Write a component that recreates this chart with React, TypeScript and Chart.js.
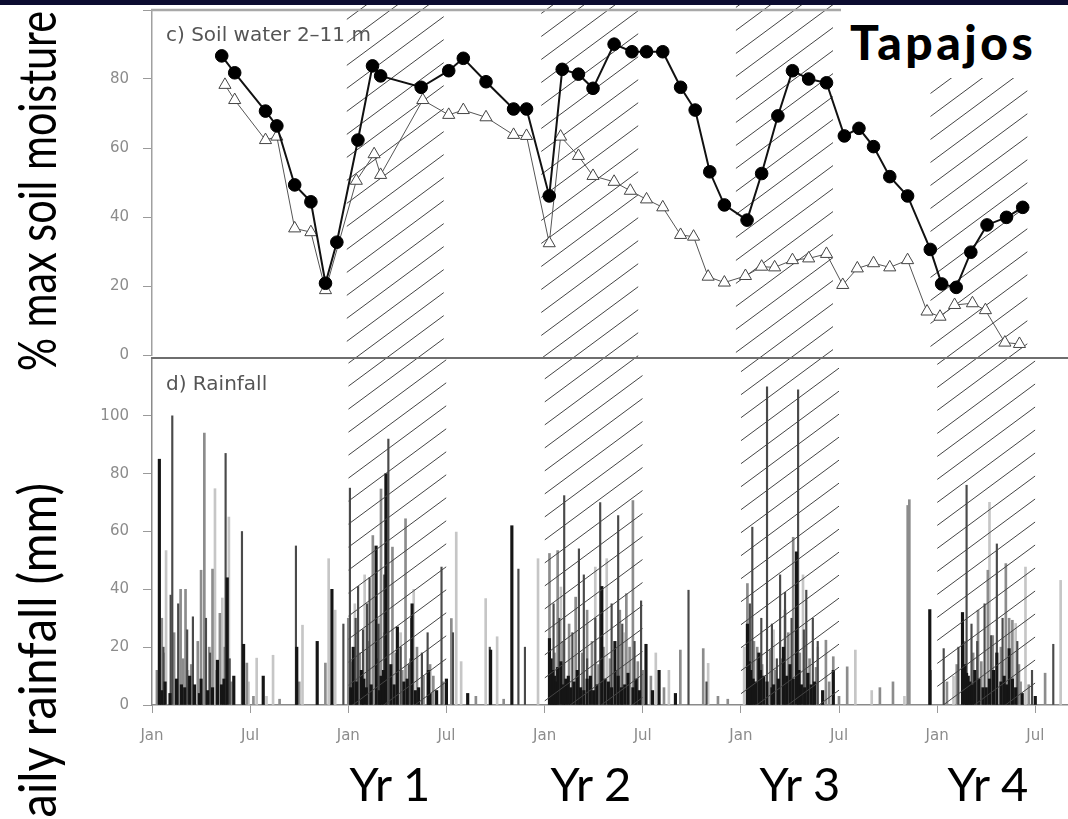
import React, { useEffect, useRef } from 'react';
import { Chart, registerables } from 'chart.js';

Chart.register(...registerables);

// ---------------- data ----------------
const monthTickValues = [0, 6, 12, 18, 24, 30, 36, 42, 48, 54];
const monthTickLabels = ['Jan', 'Jul', 'Jan', 'Jul', 'Jan', 'Jul', 'Jan', 'Jul', 'Jan', 'Jul'];
const soilTickValues = [0, 20, 40, 60, 80, 100];
const rainTickValues = [0, 20, 40, 60, 80, 100];
const wetSeasonBands: [number, number][] = [[12, 18], [24, 30], [36, 42], [48, 54]];
const yearLabels = ['Yr 1', 'Yr 2', 'Yr 3', 'Yr 4'];

// soil water 2-11 m, filled circles (months since first Jan, % of max)
const soilFilledMonths = [4.3, 5.1, 7.0, 7.7, 8.8, 9.8, 10.7, 11.4, 12.7, 13.6, 14.1, 16.6, 18.3, 19.2, 20.6, 22.3, 23.1, 24.5, 25.3, 26.3, 27.2, 28.5, 29.6, 30.5, 31.5, 32.6, 33.5, 34.4, 35.3, 36.7, 37.6, 38.6, 39.5, 40.5, 41.6, 42.7, 43.6, 44.5, 45.5, 46.6, 48.0, 48.7, 49.6, 50.5, 51.5, 52.7, 53.7];
const soilFilledValues = [86.7, 81.8, 70.7, 66.4, 49.3, 44.4, 20.8, 32.7, 62.3, 83.8, 80.9, 77.6, 82.4, 86.0, 79.2, 71.3, 71.3, 46.1, 82.8, 81.4, 77.3, 90.1, 87.9, 87.9, 87.9, 77.6, 71.0, 53.1, 43.5, 39.1, 52.6, 69.3, 82.4, 80.0, 78.9, 63.5, 65.7, 60.4, 51.7, 46.1, 30.6, 20.6, 19.6, 29.8, 37.7, 39.9, 42.8];

// open triangles
const soilOpenMonths = [4.5, 5.1, 7.0, 7.7, 8.8, 9.8, 10.7, 12.6, 13.7, 14.1, 16.7, 18.3, 19.2, 20.6, 22.3, 23.1, 24.5, 25.2, 26.3, 27.2, 28.5, 29.5, 30.5, 31.5, 32.6, 33.4, 34.3, 35.3, 36.6, 37.6, 38.4, 39.5, 40.5, 41.6, 42.6, 43.5, 44.5, 45.5, 46.6, 47.8, 48.6, 49.5, 50.6, 51.4, 52.6, 53.5];
const soilOpenValues = [78.3, 73.9, 62.3, 63.3, 36.7, 35.6, 18.8, 50.5, 58.2, 52.2, 73.9, 69.6, 71.0, 68.9, 63.8, 63.5, 32.4, 63.3, 57.7, 51.9, 50.2, 47.6, 45.1, 42.8, 34.8, 34.3, 22.7, 21.0, 22.9, 25.6, 25.4, 27.5, 28.0, 29.3, 20.3, 25.1, 26.6, 25.4, 27.5, 12.6, 11.1, 14.5, 15.0, 13.0, 3.6, 3.2];

// daily rainfall (month position, mm), grouped by bar shade
const rainBlack: [number, number][] = [
  [0.45, 85], [0.6, 5], [0.8, 8], [1.1, 4], [1.5, 9], [1.8, 7], [2.0, 6], [2.3, 10], [2.6, 7], [2.9, 4], [3.0, 9], [3.4, 5], [3.7, 6], [4.0, 15.5],
  [4.25, 7], [4.4, 9], [4.6, 44], [5.0, 10], [5.6, 21], [6.8, 10],
  [8.85, 20], [10.1, 22], [11.0, 40], [12.15, 6], [12.3, 20], [12.5, 8], [12.8, 12], [12.95, 9], [13.1, 6], [13.4, 7], [13.7, 55], [13.9, 5], [14.0, 10],
  [14.15, 12], [14.3, 80], [14.6, 14], [14.8, 7], [15.0, 27], [15.4, 8], [15.6, 9], [15.9, 35], [16.1, 5], [16.3, 6], [16.9, 12], [17.0, 4], [17.4, 5],
  [18.0, 9], [19.3, 4], [20.7, 19], [22.0, 62], [24.3, 23], [24.4, 16], [24.5, 12], [24.6, 10], [24.7, 8], [24.8, 13], [25.0, 15], [25.15, 7], [25.3, 9],
  [25.45, 10], [25.6, 6], [25.8, 8], [26.0, 12], [26.2, 6], [26.4, 5], [26.6, 9], [26.8, 10], [27.0, 5], [27.2, 7], [27.5, 41], [27.7, 9], [27.9, 8],
  [28.1, 6], [28.3, 22], [28.5, 10], [28.7, 6], [28.9, 7], [29.1, 11], [29.4, 6], [29.6, 9], [29.8, 5], [30.2, 21], [30.6, 5], [31.0, 12], [32.0, 4],
  [36.4, 28], [36.5, 15], [36.6, 12], [36.75, 9], [36.9, 8], [37.1, 18], [37.2, 12], [37.4, 10], [37.6, 8], [37.9, 6], [38.0, 7], [38.3, 9], [38.6, 20],
  [38.8, 10], [39.0, 14], [39.2, 9], [39.4, 53], [39.55, 12], [39.7, 7], [39.9, 6], [40.1, 11], [40.3, 7], [40.5, 8], [41.0, 5], [41.65, 12],
  [47.55, 33], [49.55, 32], [49.7, 14], [49.8, 11], [49.9, 10], [50.0, 8], [50.15, 7], [50.3, 12], [50.55, 9], [50.8, 6], [51.0, 6], [51.2, 9],
  [51.45, 12], [51.65, 18], [51.9, 8], [52.1, 10], [52.25, 7], [52.4, 19.5], [52.6, 9], [52.8, 6], [53.2, 4], [54.0, 3],
];
const rainDark: [number, number][] = [
  [0.7, 20], [1.24, 100], [1.14, 38], [1.6, 35], [2.15, 26], [2.5, 30.5], [3.3, 30], [3.55, 18], [4.5, 87], [4.75, 16], [5.5, 60], [8.8, 55],
  [11.7, 28], [12.1, 75], [12.45, 30], [12.6, 41], [12.9, 26], [13.15, 35], [13.3, 44], [13.85, 28], [14.2, 45], [14.45, 92], [15.2, 20], [15.7, 14],
  [15.85, 30], [16.5, 18], [16.85, 25], [17.7, 47.7], [18.4, 25], [20.65, 20], [22.4, 47], [22.8, 20], [24.55, 35], [24.9, 30], [25.2, 72.4],
  [25.7, 25], [26.1, 54], [26.4, 45], [26.6, 16], [27.1, 30], [27.4, 70], [28.1, 35], [28.5, 65.5], [28.75, 28], [29.5, 22], [29.9, 36], [32.8, 39.7],
  [33.9, 8], [36.55, 35], [36.7, 61.5], [37.25, 30], [37.6, 110], [37.9, 28], [38.2, 16], [38.4, 45], [38.7, 39], [39.1, 30], [39.5, 109],
  [39.85, 26], [40.0, 39.7], [40.4, 30], [40.7, 22], [47.6, 12], [48.4, 19.5], [49.3, 20], [49.8, 76], [50.1, 28], [50.45, 22], [50.9, 35],
  [51.3, 24], [51.65, 55.7], [52.0, 30], [52.9, 22], [53.8, 12], [55.1, 21],
];
const rainGrey: [number, number][] = [
  [0.3, 12], [0.6, 30], [0.7, 18], [1.35, 25], [1.75, 40], [1.9, 16], [2.05, 40], [2.4, 14], [2.8, 22], [3.0, 46.6], [3.2, 94], [3.5, 20], [3.7, 47],
  [3.95, 12], [4.15, 31.7], [4.45, 20], [4.85, 8], [5.8, 14.5], [6.2, 3], [7.8, 2], [9.0, 8],
  [10.6, 14.5], [12.0, 30], [12.2, 15], [12.7, 18], [13.2, 22], [13.5, 58.6], [13.8, 16], [14.0, 74.7], [14.2, 25], [14.7, 54.6], [14.9, 18],
  [15.3, 12], [15.5, 64.4], [15.8, 16], [16.2, 20], [16.6, 10], [17.0, 14], [17.2, 10], [17.8, 8], [18.3, 29.9], [19.8, 3], [21.5, 2],
  [24.3, 52.4], [24.6, 18], [24.8, 53.4], [25.1, 22], [25.5, 28], [25.9, 37.3], [26.3, 18], [26.6, 32.8], [26.9, 22], [27.3, 14], [27.6, 20],
  [28.0, 16], [28.4, 12], [28.6, 32.8], [29.0, 38.5], [29.2, 20], [29.4, 70.7], [29.7, 15], [30.0, 12], [30.5, 10], [31.3, 6], [32.3, 19],
  [33.7, 19.5], [34.6, 3], [35.2, 2], [36.4, 42], [36.5, 16], [36.8, 22], [37.0, 20], [37.3, 14], [37.8, 19], [38.1, 12], [38.5, 16], [38.7, 32.8],
  [38.9, 25], [39.2, 58], [39.6, 18], [40.2, 16], [40.6, 13], [41.2, 22.4], [41.4, 8], [41.65, 16.7], [42.0, 3], [42.5, 13.2],
  [44.5, 6], [45.3, 8], [46.2, 69], [46.3, 71], [48.6, 8], [49.2, 14], [49.7, 22], [50.2, 18], [50.5, 32.8], [50.7, 15], [51.1, 46.6], [51.4, 24],
  [51.9, 20], [52.2, 48.9], [52.4, 30], [52.6, 29.3], [53.0, 14], [53.1, 8], [53.6, 7], [54.6, 11],
];
const rainLight: [number, number][] = [
  [0.86, 53.4], [2.2, 12], [3.85, 74.8], [4.3, 37], [4.7, 65], [5.9, 8], [6.4, 16.2], [7.0, 3], [7.4, 17.2], [9.2, 27.6], [10.8, 50.6], [11.2, 32.8],
  [12.4, 35], [13.0, 45], [13.9, 30], [15.2, 25], [16.0, 40], [18.6, 59.8], [18.9, 15], [20.4, 36.8], [21.1, 23.6], [23.6, 50.6], [25.0, 40.8],
  [27.1, 47.7], [27.8, 50.6], [28.9, 25], [30.8, 18], [31.6, 12], [34.0, 14.4], [36.2, 20], [38.0, 26], [39.8, 45], [40.7, 20], [43.0, 19], [44.0, 5],
  [46.0, 3], [49.0, 10], [51.2, 70.1], [52.8, 28.2], [53.4, 47.7], [55.55, 43.1],
];

// ---------------- helpers ----------------
const TICK_FONT = { family: 'DejaVu Sans', size: 15 };
const TICK_COLOR = '#8c8c8c';
const HATCH_SLOPE = 0.74;
const HATCH_GAP = 23;
const HATCH_PHASE = 736;

// page offsets of the two canvases (layout padding 25 keeps room for axis label padding)
const TOP_CANVAS_Y = -15;
const BOT_CANVAS_Y = 333;

function hatchPlugin(pageTop: number, clipTop: number, clipBottom: number, afterData: boolean) {
  const draw = (chart: any) => {
    const ctx = chart.ctx;
    const x = chart.scales.x;
    ctx.save();
    for (const [a, b] of wetSeasonBands) {
      const x1 = x.getPixelForValue(a);
      const x2 = x.getPixelForValue(b);
      ctx.save();
      ctx.beginPath();
      ctx.rect(x1, clipTop - pageTop, x2 - x1, clipBottom - clipTop);
      ctx.clip();
      ctx.strokeStyle = '#444';
      ctx.lineWidth = 1;
      ctx.beginPath();
      const cMin = clipTop + HATCH_SLOPE * x1;
      const cMax = clipBottom + HATCH_SLOPE * x2;
      for (let k = Math.floor((cMin - HATCH_PHASE) / HATCH_GAP); HATCH_PHASE + k * HATCH_GAP <= cMax; k++) {
        const c = HATCH_PHASE + k * HATCH_GAP;
        ctx.moveTo(x1, c - HATCH_SLOPE * x1 - pageTop);
        ctx.lineTo(x2, c - HATCH_SLOPE * x2 - pageTop);
      }
      ctx.stroke();
      ctx.restore();
    }
    ctx.restore();
  };
  return afterData
    ? { id: 'hatch', afterDatasetsDraw: draw }
    : { id: 'hatch', beforeDatasetsDraw: draw };
}

function topLinePlugin(color: string, width: number) {
  return {
    id: 'topline',
    afterDraw(chart: any) {
      const { ctx, chartArea } = chart;
      ctx.save();
      ctx.strokeStyle = color;
      ctx.lineWidth = width;
      ctx.beginPath();
      ctx.moveTo(chartArea.left - 1, chartArea.top);
      ctx.lineTo(chartArea.right, chartArea.top);
      ctx.stroke();
      ctx.restore();
    },
  };
}

function xScale(display: boolean): any {
  const s: any = {
    type: 'linear',
    min: 0,
    max: 56,
    offset: false,
    display,
    afterBuildTicks: (sc: any) => {
      sc.ticks = monthTickValues.map((v) => ({ value: v }));
    },
    ticks: {
      autoSkip: false,
      maxRotation: 0,
      color: TICK_COLOR,
      font: TICK_FONT,
      padding: 14,
      callback: (v: any) => {
        const i = monthTickValues.indexOf(Number(v));
        return i >= 0 ? monthTickLabels[i] : '';
      },
    },
    grid: { display: true, drawOnChartArea: false, drawTicks: true, tickLength: 8, color: '#9a9a9a', offset: false },
    border: { display: true, color: '#8a8a8a', width: 1.5 },
  };
  if (display) {
    s.afterFit = (sc: any) => {
      sc.height = 55;
    };
  }
  return s;
}

function yScale(max: number, tickValues: number[], hideTop: boolean, borderColor: string): any {
  return {
    type: 'linear',
    min: 0,
    max,
    afterBuildTicks: (s: any) => {
      s.ticks = tickValues.map((v) => ({ value: v }));
    },
    afterFit: (s: any) => {
      s.width = 152;
    },
    ticks: {
      color: TICK_COLOR,
      font: TICK_FONT,
      padding: 14,
      callback: (v: any) => (hideTop && Number(v) === 100 ? '' : String(v)),
    },
    grid: { display: true, drawOnChartArea: false, drawTicks: true, tickLength: 9, color: '#9a9a9a' },
    border: { display: true, color: borderColor, width: 1.5 },
  };
}

function rainDataset(points: [number, number][], color: string, thickness: number): any {
  return {
    type: 'bar',
    data: points.map(([x, y]) => ({ x, y })),
    backgroundColor: color,
    borderWidth: 0,
    barThickness: thickness,
    grouped: false,
  };
}

export default function App() {
  const topRef = useRef<HTMLCanvasElement>(null);
  const botRef = useRef<HTMLCanvasElement>(null);

  useEffect(() => {
    const soilChart = new Chart(topRef.current as HTMLCanvasElement, {
      type: 'line',
      data: {
        datasets: [
          {
            data: soilFilledMonths.map((x, i) => ({ x, y: soilFilledValues[i] })),
            borderColor: '#111',
            borderWidth: 2,
            pointStyle: 'circle',
            pointRadius: 6.3,
            pointBackgroundColor: '#000',
            pointBorderColor: '#000',
            pointBorderWidth: 1,
            clip: false,
          },
          {
            data: soilOpenMonths.map((x, i) => ({ x, y: soilOpenValues[i] })),
            borderColor: '#555',
            borderWidth: 1,
            pointStyle: 'triangle',
            pointRadius: 7,
            pointBackgroundColor: '#fff',
            pointBorderColor: '#444',
            pointBorderWidth: 1,
            clip: false,
          },
        ],
      } as any,
      options: {
        responsive: false,
        animation: false,
        layout: { padding: { top: 25, bottom: 25, left: 0, right: 0 } },
        plugins: { legend: { display: false }, tooltip: { enabled: false } },
        scales: {
          x: xScale(false),
          y: yScale(100, soilTickValues, true, '#a0a0a0'),
        },
      } as any,
      plugins: [hatchPlugin(TOP_CANVAS_Y, 5, 358, false), topLinePlugin('#a8a8a8', 2.5)],
    });

    const rainChart = new Chart(botRef.current as HTMLCanvasElement, {
      type: 'bar',
      data: {
        datasets: [
          rainDataset(rainBlack, '#151515', 2.5),
          rainDataset(rainDark, '#4a4a4a', 1.5),
          rainDataset(rainGrey, '#8c8c8c', 2),
          rainDataset(rainLight, '#c6c6c6', 2),
        ],
      } as any,
      options: {
        responsive: false,
        animation: false,
        layout: { padding: { top: 25, bottom: 0, left: 0, right: 0 } },
        plugins: { legend: { display: false }, tooltip: { enabled: false } },
        scales: {
          x: xScale(true),
          y: yScale(120, rainTickValues, false, '#8a8a8a'),
        },
      } as any,
      plugins: [hatchPlugin(BOT_CANVAS_Y, 358, 705, true), topLinePlugin('#6e6e6e', 2)],
    });

    return () => {
      soilChart.destroy();
      rainChart.destroy();
    };
  }, []);

  const rotBase: any = {
    position: 'absolute',
    fontFamily: 'Lato, sans-serif',
    fontSize: 53,
    lineHeight: '53px',
    whiteSpace: 'nowrap',
    color: '#000',
    transformOrigin: '0 0',
  };
  const yrBase: any = {
    position: 'absolute',
    top: 760,
    fontFamily: 'Lato, sans-serif',
    fontWeight: 400,
    fontSize: 47,
    lineHeight: '47px',
    whiteSpace: 'nowrap',
    color: '#000',
    transform: 'translateX(-50%)',
  };
  const panelLabel: any = {
    position: 'absolute',
    left: 166,
    fontFamily: 'DejaVu Sans, sans-serif',
    fontSize: 20,
    lineHeight: '20px',
    color: '#555',
    whiteSpace: 'nowrap',
  };
  const yrCenters = [390, 591, 800, 988];

  return (
    <div style={{ position: 'absolute', left: 0, top: 0, width: 1068, height: 819, overflow: 'hidden', background: '#fff' }}>
      <canvas ref={topRef} width={1068} height={395} style={{ position: 'absolute', left: 0, top: TOP_CANVAS_Y, width: 1068, height: 395 }} />
      <canvas ref={botRef} width={1068} height={427} style={{ position: 'absolute', left: 0, top: BOT_CANVAS_Y, width: 1068, height: 427 }} />

      <div style={{ position: 'absolute', left: 0, top: 0, width: 1068, height: 5, background: '#0c0c30' }} />
      <div style={{ position: 'absolute', left: 841, top: 5, width: 227, height: 73, background: '#fff' }} />
      <div style={{ position: 'absolute', left: 850, top: 18, fontFamily: 'Lato, sans-serif', fontWeight: 900, fontSize: 48, lineHeight: '48px', letterSpacing: 3.5, color: '#000', whiteSpace: 'nowrap' }}>Tapajos</div>

      <div style={{ ...panelLabel, top: 23.5 }}>c) Soil water 2–11 m</div>
      <div style={{ ...panelLabel, top: 373 }}>d) Rainfall</div>

      <div style={{ ...rotBase, left: 35, top: 191, transform: 'rotate(-90deg) scaleX(0.78) translate(-50%, -50%)' }}>% max soil moisture</div>
      <div style={{ ...rotBase, left: 35, top: 483, transform: 'rotate(-90deg) scaleX(0.89) translate(-100%, -50%)' }}>Daily rainfall (mm)</div>

      {yearLabels.map((t, i) => (
        <div key={t} style={{ ...yrBase, left: yrCenters[i] }}>{t}</div>
      ))}
    </div>
  );
}
